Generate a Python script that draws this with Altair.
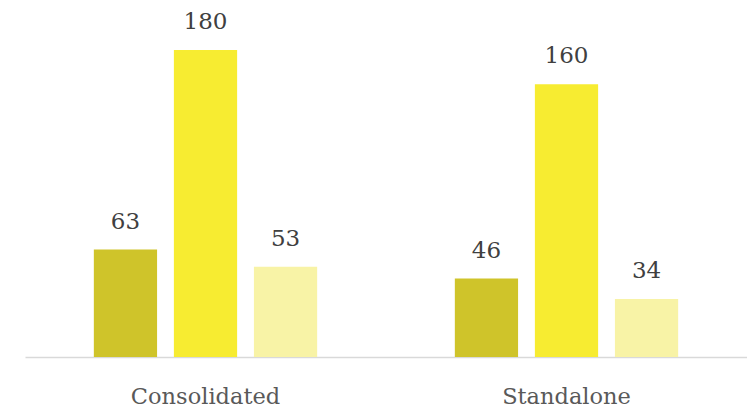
import altair as alt
import pandas as pd

groups = ["Consolidated", "Standalone"]
series = ["A", "B", "C"]
values = {
    "A": [63, 46],
    "B": [180, 160],
    "C": [53, 34],
}
colors = ["#CFC42A", "#F7EC31", "#F8F3A6"]

rows = []
for s in series:
    for g, v in zip(groups, values[s]):
        rows.append({"group": g, "series": s, "value": v})
df = pd.DataFrame(rows)

font = "DejaVu Serif"

x = alt.X("group:N", sort=groups, title=None,
          scale=alt.Scale(paddingInner=0, paddingOuter=0),
          axis=alt.Axis(labelAngle=0, ticks=False, domainColor="#D9D9D9", domainWidth=1.5,
                        labelFont=font, labelFontSize=22.5, labelColor="#595959",
                        labelBaseline="alphabetic", labelPadding=46))
xo = alt.XOffset("series:N", sort=series,
                 scale=alt.Scale(paddingInner=0.21, paddingOuter=0.86))
y = alt.Y("value:Q", scale=alt.Scale(domain=[0, 200]), axis=None)

base = alt.Chart(df)
bars = base.mark_bar().encode(
    x=x, xOffset=xo, y=y,
    color=alt.Color("series:N", sort=series,
                    scale=alt.Scale(domain=series, range=colors), legend=None),
)
labels = base.mark_text(font=font, fontSize=23, color="#404040",
                        baseline="alphabetic", dy=-21).encode(
    x=x, xOffset=xo, y=y, text="value:Q"
)

chart = (bars + labels).properties(
    width=722, height=341,
    autosize=alt.AutoSizeParams(type="none"),
    padding={"left": 17, "top": 8, "right": 0, "bottom": 51},
).configure_view(stroke=None)

chart.save("out.html", embed_options={"renderer": "svg", "actions": False})
